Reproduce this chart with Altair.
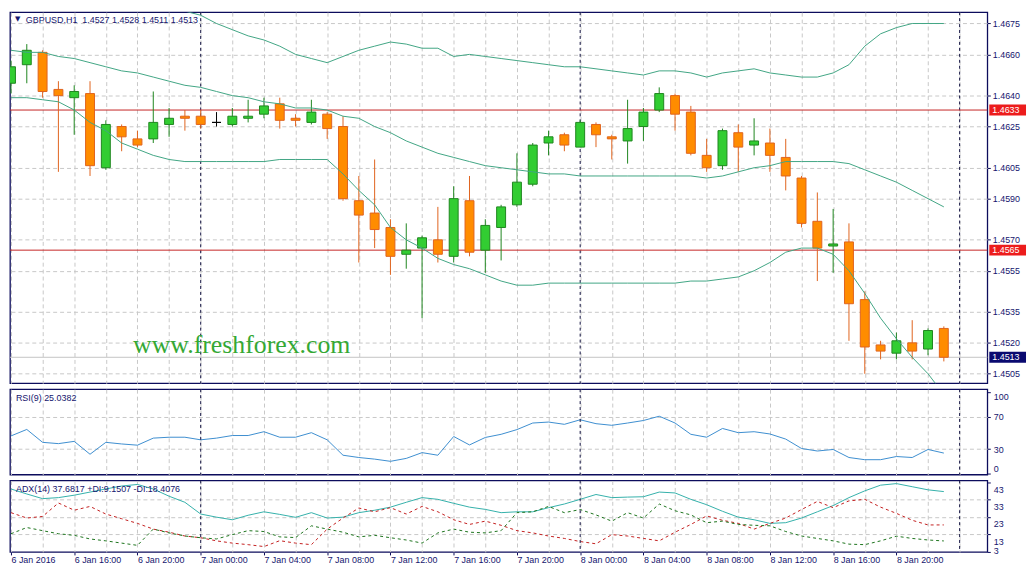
import json

import numpy as np
import pandas as pd
import altair as alt

# GBPUSD H1, one bar per hour from 6 Jan 2016 12:00 to 8 Jan 23:00
opens = [1.4646, 1.4655, 1.4661, 1.4643, 1.4639, 1.4641, 1.4605, 1.4625, 1.4619, 1.4619,
         1.4626, 1.4630, 1.4630, 1.4627, 1.4626, 1.4629, 1.4631, 1.4636, 1.4629, 1.4627,
         1.4631, 1.4625, 1.4589, 1.4583, 1.4576, 1.4563, 1.4566, 1.4570, 1.4562, 1.4589,
         1.4565, 1.4576, 1.4587, 1.4597, 1.4617, 1.4621, 1.4615, 1.4626, 1.4620, 1.4618,
         1.4625, 1.4633, 1.4640, 1.4632, 1.4611, 1.4606, 1.4622, 1.4616, 1.4617, 1.4610,
         1.4600, 1.4579, 1.4567, 1.4569, 1.4541, 1.4519, 1.4515, 1.4520, 1.4517, 1.4527]
highs = [1.4657, 1.4665, 1.4662, 1.4647, 1.4645, 1.4647, 1.4628, 1.4626, 1.4623, 1.4642,
         1.4634, 1.4633, 1.4633, 1.4632, 1.4634, 1.4638, 1.4639, 1.4639, 1.4631, 1.4638,
         1.4632, 1.4630, 1.4601, 1.4609, 1.4580, 1.4578, 1.4572, 1.4586, 1.4596, 1.4601,
         1.4580, 1.4587, 1.4612, 1.4617, 1.4623, 1.4622, 1.4628, 1.4627, 1.4621, 1.4638,
         1.4634, 1.4644, 1.4641, 1.4635, 1.4619, 1.4624, 1.4626, 1.4629, 1.4624, 1.4619,
         1.4601, 1.4593, 1.4585, 1.4578, 1.4545, 1.4521, 1.4525, 1.4531, 1.4527, 1.4528]
lows = [1.4641, 1.4646, 1.4639, 1.4603, 1.4621, 1.4601, 1.4604, 1.4613, 1.4615, 1.4617,
        1.4620, 1.4623, 1.4624, 1.4625, 1.4625, 1.4627, 1.4629, 1.4624, 1.4625, 1.4626,
        1.4619, 1.4589, 1.4559, 1.4566, 1.4553, 1.4556, 1.4532, 1.4559, 1.4559, 1.4562,
        1.4554, 1.4560, 1.4586, 1.4596, 1.4611, 1.4613, 1.4615, 1.4615, 1.4609, 1.4607,
        1.4618, 1.4632, 1.4623, 1.4611, 1.4603, 1.4604, 1.4603, 1.4611, 1.4603, 1.4594,
        1.4576, 1.4550, 1.4554, 1.4521, 1.4505, 1.4512, 1.4512, 1.4512, 1.4514, 1.4511]
closes = [1.4654, 1.4662, 1.4642, 1.4640, 1.4642, 1.4606, 1.4626, 1.4620, 1.4616, 1.4627,
          1.4629, 1.4629, 1.4626, 1.4627, 1.4630, 1.4630, 1.4635, 1.4628, 1.4628, 1.4632,
          1.4624, 1.4590, 1.4582, 1.4575, 1.4562, 1.4565, 1.4571, 1.4563, 1.4590, 1.4564,
          1.4577, 1.4586, 1.4598, 1.4616, 1.4620, 1.4616, 1.4627, 1.4621, 1.4619, 1.4624,
          1.4632, 1.4641, 1.4631, 1.4612, 1.4605, 1.4623, 1.4615, 1.4618, 1.4611, 1.4601,
          1.4578, 1.4566, 1.4568, 1.4539, 1.4518, 1.4516, 1.4521, 1.4516, 1.4526, 1.4513]

# Bollinger bands (upper band is above the visible range for the first bars)
bb_upper = [None, None, None, None, None, None, None, None, None, None,
            None, 1.4681, 1.4679, 1.4675, 1.4672, 1.4669, 1.4667, 1.4664, 1.4660, 1.4658,
            1.4656, 1.4659, 1.4662, 1.4664, 1.4666, 1.4665, 1.4663, 1.4663, 1.4659, 1.4660,
            1.4659, 1.4658, 1.4657, 1.4656, 1.4655, 1.4654, 1.4654, 1.4653, 1.4652, 1.4651,
            1.4650, 1.4652, 1.4652, 1.4651, 1.4649, 1.4651, 1.4652, 1.4653, 1.4651, 1.4650,
            1.4649, 1.4649, 1.4651, 1.4655, 1.4664, 1.4670, 1.4673, 1.4675, 1.4675, 1.4675]
bb_middle = [1.4662, 1.4661, 1.4661, 1.4659, 1.4658, 1.4656, 1.4654, 1.4652, 1.4651, 1.4649,
             1.4647, 1.4645, 1.4644, 1.4642, 1.4640, 1.4639, 1.4637, 1.4636, 1.4634, 1.4634,
             1.4633, 1.4630, 1.4629, 1.4625, 1.4622, 1.4618, 1.4615, 1.4612, 1.4610, 1.4608,
             1.4606, 1.4605, 1.4604, 1.4603, 1.4602, 1.4602, 1.4601, 1.4601, 1.4601, 1.4601,
             1.4601, 1.4601, 1.4601, 1.4601, 1.4600, 1.4601, 1.4603, 1.4605, 1.4606, 1.4608,
             1.4608, 1.4608, 1.4608, 1.4607, 1.4604, 1.4601, 1.4598, 1.4594, 1.4590, 1.4586]
bb_lower = [1.4639, 1.4639, 1.4638, 1.4637, 1.4633, 1.4627, 1.4623, 1.4617, 1.4614, 1.4611,
            1.4609, 1.4608, 1.4608, 1.4608, 1.4608, 1.4608, 1.4608, 1.4609, 1.4609, 1.4609,
            1.4609, 1.4602, 1.4594, 1.4587, 1.4576, 1.4570, 1.4566, 1.4561, 1.4558, 1.4556,
            1.4553, 1.4550, 1.4548, 1.4548, 1.4549, 1.4549, 1.4549, 1.4549, 1.4549, 1.4549,
            1.4549, 1.4549, 1.4549, 1.4550, 1.4550, 1.4551, 1.4552, 1.4555, 1.4559, 1.4564,
            1.4566, 1.4566, 1.4563, 1.4555, 1.4544, 1.4532, 1.4522, 1.4513, 1.4505, 1.4495]

rsi = [46.2, 54.2, 38.3, 36.7, 39.5, 23.6, 38.3, 36.3, 34.8, 43.5,
       44.6, 44.6, 41.4, 43.5, 46.7, 46.7, 51.4, 44.6, 44.6, 50.2,
       41.4, 22.4, 19.6, 17.6, 14.9, 18.5, 25.6, 22.4, 45.5, 35.1,
       44.3, 48.2, 54.0, 62.1, 63.3, 60.5, 66.1, 61.3, 59.3, 62.1,
       65.2, 70.5, 62.1, 48.2, 44.6, 55.4, 50.2, 51.4, 48.6, 42.3,
       30.7, 27.6, 29.5, 19.6, 16.9, 16.9, 20.8, 19.6, 29.5, 25.0382]
adx = [39.2, 36.3, 33.6, 34.2, 35.6, 37.4, 39.2, 40.9, 41.8, 39.2,
       35.0, 31.5, 24.7, 22.9, 21.4, 24.0, 26.0, 24.5, 22.8, 25.5,
       22.4, 22.9, 25.5, 26.9, 28.7, 31.5, 34.2, 33.2, 30.9, 28.7,
       27.4, 25.5, 26.0, 26.0, 28.4, 30.5, 33.2, 36.0, 34.2, 34.5,
       34.7, 37.4, 36.9, 33.2, 30.1, 26.3, 22.9, 21.4, 19.3, 19.7,
       22.4, 26.0, 29.6, 34.2, 38.1, 41.4, 42.3, 40.5, 38.7, 37.6817]
plus_di = [13.3, 16.9, 15.1, 13.3, 12.4, 10.3, 9.2, 7.9, 6.6, 16.0,
           13.8, 12.0, 11.0, 10.3, 12.8, 15.1, 14.6, 11.5, 11.1, 17.9,
           16.0, 14.2, 11.5, 12.4, 11.0, 9.7, 7.9, 13.8, 16.0, 14.2,
           13.8, 15.1, 25.5, 26.0, 29.1, 25.5, 27.3, 24.2, 20.6, 25.5,
           22.4, 30.5, 26.6, 24.2, 19.7, 20.6, 18.7, 18.2, 17.9, 14.6,
           12.0, 10.6, 9.2, 7.3, 7.0, 9.2, 11.9, 10.6, 9.7, 9.1507]
minus_di = [25.5, 22.4, 23.3, 31.1, 26.9, 29.1, 24.7, 22.0, 19.3, 16.0,
            14.2, 12.0, 11.0, 9.2, 7.9, 7.0, 5.9, 9.3, 7.9, 7.0,
            16.0, 22.4, 28.2, 26.0, 28.4, 24.7, 29.1, 26.0, 21.4, 18.7,
            20.6, 18.2, 15.1, 13.8, 12.0, 10.6, 8.8, 7.5, 12.8, 12.0,
            10.6, 9.2, 14.2, 18.7, 23.6, 21.1, 19.3, 16.0, 19.3, 22.4,
            27.3, 32.0, 28.4, 32.3, 33.2, 28.7, 25.1, 21.1, 18.4, 18.4076]

time_labels = ["6 Jan 2016", "6 Jan 16:00", "6 Jan 20:00", "7 Jan 00:00", "7 Jan 04:00",
               "7 Jan 08:00", "7 Jan 12:00", "7 Jan 16:00", "7 Jan 20:00", "8 Jan 00:00",
               "8 Jan 04:00", "8 Jan 08:00", "8 Jan 12:00", "8 Jan 16:00", "8 Jan 20:00"]
price_ticks = [1.4505, 1.4520, 1.4535, 1.4555, 1.4570, 1.4590, 1.4605, 1.4625, 1.4640, 1.4660, 1.4675]
rsi_ticks = [0, 30, 70, 100]
adx_ticks = [3, 13, 23, 33, 43]
day_starts = [12, 36, 60]
level_prices = [1.4633, 1.4565]
bid_price = 1.4513

FONT = "Liberation Sans"
NAVY = "#15156e"
FRAME = "#0c0c5c"
GRID = "#c8c8c8"
RED = "#c62626"
W = 985
H_MAIN, H_RSI, H_ADX = 374, 86, 72
Y_LO, Y_HI = 1.45004, 1.46805
TAG_HALF = 5.5 * (Y_HI - Y_LO) / H_MAIN  # half the height of a price tag, in price units

n = len(opens)
bars = pd.DataFrame({"i": range(n), "open": opens, "high": highs, "low": lows, "close": closes})
bars["dir"] = np.select([bars["close"] > bars["open"], bars["close"] < bars["open"]], ["up", "down"], "doji")
bands = (
    pd.DataFrame({"i": range(n), "upper": bb_upper, "middle": bb_middle, "lower": bb_lower})
    .melt("i", var_name="band", value_name="v")
    .dropna()
)
osc = pd.DataFrame({"i": range(n), "rsi": rsi, "adx": adx, "pdi": plus_di, "mdi": minus_di})

x_scale = alt.Scale(domain=[-0.0625, 61.75], nice=False, zero=False, padding=0)
y_main = alt.Scale(domain=[Y_LO, Y_HI], nice=False, zero=False, padding=0)
y_rsi = alt.Scale(domain=[-1.4, 103.8], nice=False, zero=False)
y_adx = alt.Scale(domain=[2.8, 44.1], nice=False, zero=False)

grid_values = list(range(0, 61, 2))
grid_x = alt.Axis(values=grid_values, labels=False, ticks=False, domain=False, grid=True,
                  gridColor=GRID, gridDash=[4, 3], title=None)
label_expr = (f"datum.value % 4 == 0 && datum.value <= 56 ? "
              f"{json.dumps(time_labels)}[datum.value / 4] : ''")
time_axis = alt.Axis(values=grid_values, grid=True, gridColor=GRID, gridDash=[4, 3], domain=False,
                     labelExpr=label_expr, labelAlign="left", labelPadding=1, labelOverlap=False,
                     labelFlush=False, tickColor=FRAME, tickSize=3,
                     tickOpacity={"condition": {"test": "datum.value % 4 != 0 || datum.value > 56", "value": 0}, "value": 1},
                     title=None)
price_axis = alt.Axis(orient="right", values=price_ticks, format=".4f", grid=True, gridColor=GRID,
                      gridDash=[4, 3], domain=False, tickSize=3, tickColor=FRAME, labelPadding=2,
                      labelOverlap=False, labelFlush=False, title=None, zindex=0)
rsi_axis = alt.Axis(orient="right", values=rsi_ticks, grid=True, gridColor=GRID, gridDash=[4, 3],
                    gridOpacity={"condition": {"test": "datum.value == 0 || datum.value == 100", "value": 0}, "value": 1},
                    labelBaseline={"condition": {"test": "datum.value == 100", "value": "top"}, "value": "middle"},
                    labelOffset={"condition": {"test": "datum.value == 0", "value": -5}, "value": 0},
                    domain=False, tickSize=3, tickColor=FRAME, labelPadding=3, labelOverlap=False,
                    labelFlush=False, title=None, zindex=0)
adx_axis = alt.Axis(orient="right", values=adx_ticks, grid=True, gridColor=GRID, gridDash=[4, 3],
                    gridOpacity={"condition": {"test": "datum.value < 5 || datum.value > 40", "value": 0}, "value": 1},
                    labelOffset={"condition": {"test": "datum.value < 5", "value": -1}, "value": 7},
                    domain=False, tickSize=3, tickColor=FRAME, labelPadding=3, labelOverlap=False,
                    labelFlush=False, title=None, zindex=0)


def note(text, x, y, **kw):
    style = dict(align="left", baseline="middle", font=FONT, fontSize=9, color=NAVY)
    style.update(kw)
    return alt.Chart(pd.DataFrame({"t": [text]})).mark_text(**style).encode(
        x=alt.value(x), y=alt.value(y), text="t:N"
    )


def separators(x_axis):
    return alt.Chart(pd.DataFrame({"i": day_starts})).mark_rule(
        color="#101040", strokeDash=[3, 3], strokeWidth=1
    ).encode(x=alt.X("i:Q", scale=x_scale, axis=x_axis))


# ---- price panel
X = alt.X("i:Q", scale=x_scale, axis=grid_x)
stroke_scale = alt.Scale(domain=["up", "down", "doji"], range=["#1f861f", "#e0641e", "#000000"])
fill_scale = alt.Scale(domain=["up", "down", "doji"], range=["#32cd32", "#ff8c00", "#000000"])


def py(field):
    return alt.Y(field, scale=y_main, axis=price_axis)


wicks = alt.Chart(bars).mark_rule(strokeWidth=1, clip=True).encode(
    x=X, y=py("low:Q"), y2="high:Q",
    stroke=alt.Stroke("dir:N", scale=stroke_scale, legend=None),
)
bodies = alt.Chart(bars).mark_bar(size=9, strokeWidth=1, clip=True).encode(
    x=X, y=py("open:Q"), y2="close:Q",
    fill=alt.Fill("dir:N", scale=fill_scale, legend=None),
    stroke=alt.Stroke("dir:N", scale=stroke_scale, legend=None),
)
band_lines = alt.Chart(bands).mark_line(color="#42a584", strokeWidth=1, clip=True).encode(
    x=X, y=py("v:Q"), detail="band:N",
)
levels = alt.Chart(pd.DataFrame({"price": level_prices})).mark_rule(color=RED, strokeWidth=1).encode(
    y=py("price:Q")
)
bid = alt.Chart(pd.DataFrame({"price": [bid_price]})).mark_rule(color="#c4c4c4", strokeWidth=1).encode(
    y=py("price:Q")
)
tags = pd.DataFrame({"price": level_prices + [bid_price], "kind": ["level", "level", "bid"]})
tags["label"] = tags["price"].map("{:.4f}".format)
tag_boxes = alt.Chart(tags).transform_calculate(
    lo=f"datum.price - {TAG_HALF}", hi=f"datum.price + {TAG_HALF}"
).mark_rect().encode(
    x=alt.value(W + 2),
    x2=alt.value(W + 39),
    y=py("lo:Q"),
    y2="hi:Q",
    color=alt.Color("kind:N", scale=alt.Scale(domain=["level", "bid"], range=["#ec1c1c", "#0a0a70"]), legend=None),
)
tag_text = alt.Chart(tags).mark_text(align="left", baseline="middle", font=FONT, fontSize=9, color="white").encode(
    x=alt.value(W + 5), y=py("price:Q"), text="label:N",
)
title = f"GBPUSD,H1\u00a0\u00a0{opens[-1]:.4f} {highs[-1]:.4f} {lows[-1]:.4f} {closes[-1]:.4f}"

main = alt.layer(
    separators(grid_x),
    levels,
    bid,
    note("www.freshforex.com", 124, 336, font="Liberation Serif", fontSize=26, color="#34a834"),
    wicks,
    bodies,
    band_lines,
    tag_boxes,
    tag_text,
    note("\u25bc", 5, 7, font="DejaVu Sans", fontSize=7),
    note(title, 16, 7.5),
).properties(width=W, height=H_MAIN)

# ---- RSI panel
rsi_panel = alt.layer(
    alt.Chart(osc).mark_line(color="#3d8ed0", strokeWidth=1).encode(
        x=X, y=alt.Y("rsi:Q", scale=y_rsi, axis=rsi_axis)
    ),
    separators(grid_x),
    note(f"RSI(9) {rsi[-1]:.4f}", 6, 9),
).properties(width=W, height=H_RSI)

# ---- ADX panel
XT = alt.X("i:Q", scale=x_scale, axis=time_axis)


def ay(field):
    return alt.Y(field, scale=y_adx, axis=adx_axis)


adx_panel = alt.layer(
    alt.Chart(osc).mark_line(color="#34b0aa", strokeWidth=1).encode(x=XT, y=ay("adx:Q")),
    alt.Chart(osc).mark_line(color="#c42020", strokeWidth=1, strokeDash=[3, 3]).encode(x=XT, y=ay("mdi:Q")),
    alt.Chart(osc).mark_line(color="#1d741d", strokeWidth=1, strokeDash=[3, 3]).encode(x=XT, y=ay("pdi:Q")),
    separators(time_axis),
    note(f"ADX(14) {adx[-1]:.4f} +DI:{plus_di[-1]:.4f} -DI:{minus_di[-1]:.4f}", 6, 9),
).properties(width=W, height=H_ADX)

chart = (
    alt.vconcat(main, rsi_panel, adx_panel, spacing=2)
    .properties(padding={"left": 0, "top": 0, "right": 0, "bottom": 0})
    .configure(background="white", font=FONT)
    .configure_view(stroke=FRAME, strokeWidth=1.3)
    .configure_axis(labelFont=FONT, labelFontSize=9, labelColor=NAVY)
)

chart.save("out.html", embed_options={"renderer": "svg", "actions": False})
